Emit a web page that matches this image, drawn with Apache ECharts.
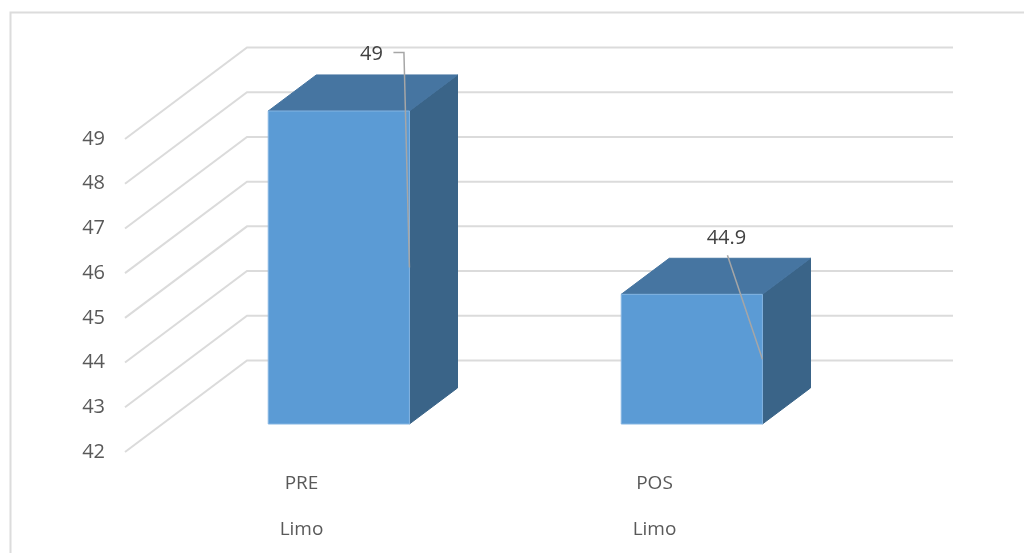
<!DOCTYPE html>
<html>
<head>
<meta charset="utf-8">
<title>Limo PRE / POS</title>
<script src="https://cdn.jsdelivr.net/npm/echarts@6/dist/echarts.min.js"></script>
<style>
  html, body { margin: 0; padding: 0; background: #fff; }
  #chart { width: 1024px; height: 553px; }
</style>
</head>
<body>
<div id="chart"></div>
<script>
// Values
const categories = ['PRE', 'POS'];
const groupLabels = ['Limo', 'Limo'];
const limoValues = [49, 44.9];
const valueLabels = ['49', '44.9'];
const yTicks = [42, 43, 44, 45, 46, 47, 48, 49];

// Oblique projection of the 3D box: floor depth in pixels
const WALL_DX = 122, WALL_DY = -91.5;
const BAR_START = 0.306, BAR_DEPTH = 0.394, BAR_WIDTH = 0.4;
const FONT = '"Open Sans", "Noto Sans", sans-serif';

// Callout placement relative to the top right front corner of each bar
const callouts = [
  { text: [-38, -57], line: [[-16, -58.5], [-5.5, -58.5]] },
  { text: [-36, -56], line: [[-35, -39]] }
];

const chart = echarts.init(document.getElementById('chart'), null, { renderer: 'canvas' });

function renderWall(params, api) {
  const tick = api.value(1);
  const band = api.size([1, 0])[0];
  const left = api.coord([0, tick]);
  const right = api.coord([categories.length - 1, tick]);
  const x0 = left[0] - band / 2, y = left[1];
  const x1 = right[0] + band / 2;
  return {
    type: 'polyline',
    shape: { points: [[x0, y], [x0 + WALL_DX, y + WALL_DY], [x1 + WALL_DX, y + WALL_DY]] },
    style: { stroke: '#dbdbdb', lineWidth: 2, fill: null },
    silent: true
  };
}

function renderBar(params, api) {
  const idx = api.value(0), val = api.value(1);
  const band = api.size([1, 0])[0];
  const width = band * BAR_WIDTH;
  const top = api.coord([idx, val]);
  const base = api.coord([idx, yTicks[0]]);
  const sx = WALL_DX * BAR_START, sy = WALL_DY * BAR_START;
  const dx = WALL_DX * BAR_DEPTH, dy = WALL_DY * BAR_DEPTH;
  const xl = top[0] - width / 2 + sx, xr = top[0] + width / 2 + sx;
  const yt = top[1] + sy, yb = base[1] + sy;
  const midY = (yt + yb) / 2;
  const c = callouts[idx];
  const leader = c.line.map(p => [xr + p[0], yt + p[1]]).concat([[xr, midY]]);
  return {
    type: 'group',
    children: [
      { type: 'polygon', shape: { points: [[xr, yt], [xr + dx, yt + dy], [xr + dx, yb + dy], [xr, yb]] },
        style: { fill: '#3a6488', stroke: '#3a6488', lineWidth: 1 } },
      { type: 'polygon', shape: { points: [[xl, yt], [xl + dx, yt + dy], [xr + dx, yt + dy], [xr, yt]] },
        style: { fill: '#4675a1', stroke: '#4675a1', lineWidth: 1 } },
      { type: 'rect', shape: { x: xl, y: yt, width: xr - xl, height: yb - yt },
        style: { fill: '#5b9bd5', stroke: '#84b5e2', lineWidth: 1 } },
      { type: 'polyline', shape: { points: leader },
        style: { stroke: '#a6a6a6', lineWidth: 1.5, fill: null } },
      { type: 'text', x: xr + c.text[0], y: yt + c.text[1],
        style: { text: valueLabels[idx], font: '20px ' + FONT, fill: '#404040',
                 align: 'center', verticalAlign: 'middle' } }
    ]
  };
}

chart.setOption({
  animation: false,
  backgroundColor: '#ffffff',
  graphic: [{
    type: 'polyline',
    shape: { points: [[10.5, 553], [10.5, 12.5], [1024, 12.5]] },
    style: { stroke: '#dcdcdc', lineWidth: 2, fill: null },
    silent: true
  }],
  grid: { left: 125, top: 139, width: 706, height: 314, containLabel: false },
  xAxis: {
    type: 'category',
    data: categories.map((c, i) => c + '\n' + groupLabels[i]),
    axisLine: { show: false },
    axisTick: { show: false },
    axisLabel: {
      color: '#595959', fontFamily: FONT, fontSize: 19,
      lineHeight: 46, margin: 9, interval: 0
    }
  },
  yAxis: {
    type: 'value',
    min: 42, max: 49, interval: 1,
    axisLine: { show: false },
    axisTick: { show: false },
    splitLine: { show: false },
    axisLabel: { color: '#595959', fontFamily: FONT, fontSize: 20, margin: 20 }
  },
  series: [
    {
      type: 'custom', name: 'walls', coordinateSystem: 'cartesian2d',
      renderItem: renderWall, clip: false, silent: true, z: 1,
      data: yTicks.map(t => [0, t])
    },
    {
      type: 'custom', name: 'Limo', coordinateSystem: 'cartesian2d',
      renderItem: renderBar, clip: false, silent: true, z: 2,
      data: limoValues.map((v, i) => [i, v])
    }
  ]
});
</script>
</body>
</html>
